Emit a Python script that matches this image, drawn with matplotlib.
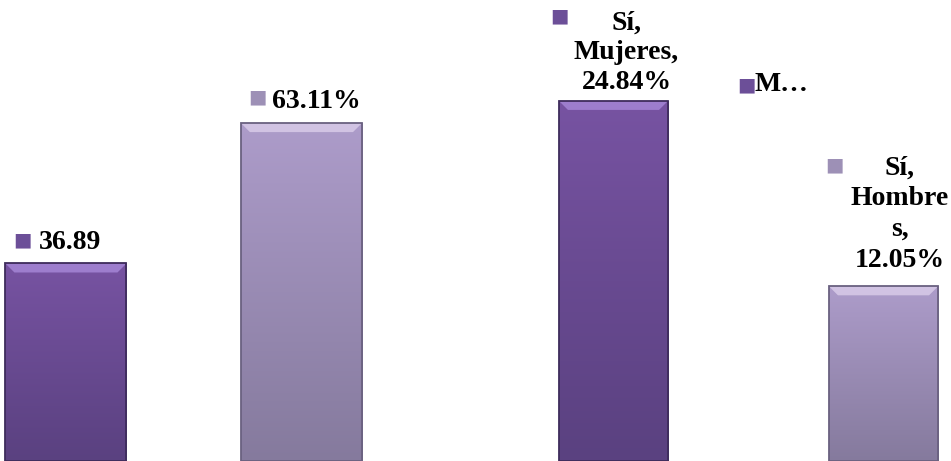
import numpy as np
import matplotlib
matplotlib.use("Agg")
import matplotlib.pyplot as plt
from matplotlib.colors import LinearSegmentedColormap
from matplotlib.patches import Polygon

# ---- data ----
left_categories = ["Sí", "No"]
left_values = [36.89, 63.11]
left_labels = ["36.89", "63.11%"]

right_categories = ["Sí, Mujeres", "Sí, Hombres"]
right_values = [24.84, 12.05]
right_labels = ["Sí,\nMujeres,\n24.84%", "Sí,\nHombre\ns,\n12.05%"]
extra_label = "M…"

dark_cols = ("#7753a2", "#5a4180")
light_cols = ("#ad9cca", "#857a9d")
dark_bevel = "#a585d6"
light_bevel = "#d8cbe8"
dark_mark = "#6c4f98"
light_mark = "#9d90b6"

W, H = 951, 461
fig = plt.figure(figsize=(W / 100, H / 100), dpi=100)
fig.patch.set_facecolor("white")

axL = fig.add_axes([0, 0, 0.5, 1])
axR = fig.add_axes([0.5, 0, 0.5, 1])

SERIF = ["Liberation Serif", "DejaVu Serif"]


def setup(ax, xlim, ylim):
    ax.set_xlim(*xlim)
    ax.set_ylim(*ylim)
    ax.axis("off")


def gradient_bar(ax, bar, cols, edge, bevel):
    x0, y0 = bar.get_x(), bar.get_y()
    w, h = bar.get_width(), bar.get_height()
    cmap = LinearSegmentedColormap.from_list("g", [cols[1], cols[0]])
    grad = np.linspace(0, 1, 256).reshape(-1, 1)
    im = ax.imshow(grad, cmap=cmap, aspect="auto", origin="lower",
                   extent=[x0, x0 + w, y0, y0 + h], zorder=2)
    im.set_clip_path(bar)
    # top bevel (size of ~9 px converted to data units)
    inv = ax.transData.inverted()
    p0 = ax.transData.transform((x0, y0 + h))
    p1 = inv.transform((p0[0] + 9, p0[1] - 9))
    bx, by = p1[0] - x0, (y0 + h) - p1[1]
    poly = Polygon([(x0, y0 + h), (x0 + w, y0 + h),
                    (x0 + w - bx, y0 + h - by), (x0 + bx, y0 + h - by)],
                   closed=True, facecolor=bevel, edgecolor="none",
                   alpha=0.85, zorder=2.5)
    ax.add_patch(poly)
    bar.set_facecolor("none")
    bar.set_edgecolor(edge)
    bar.set_linewidth(1.3)
    bar.set_zorder(3)


barsL = axL.bar(range(len(left_values)), left_values, width=0.514)
setup(axL, (-0.280, 1.739), (0, 86.1))
barsR = axR.bar(range(len(right_values)), right_values, width=0.404)
setup(axR, (-0.511, 1.25), (0, 31.8))

gradient_bar(axL, barsL[0], dark_cols, "#3e2c5c", dark_bevel)
gradient_bar(axL, barsL[1], light_cols, "#6a6180", light_bevel)
gradient_bar(axR, barsR[0], dark_cols, "#3e2c5c", dark_bevel)
gradient_bar(axR, barsR[1], light_cols, "#6a6180", light_bevel)

FS = 20


def marker(ax, i, v, mdx, mdy, mcol):
    ax.annotate("■", xy=(i, v), xytext=(mdx, mdy), textcoords="offset pixels",
                ha="center", va="center", fontsize=14, color=mcol,
                family=["DejaVu Sans"])


def label(ax, i, v, text, dx, dy, mdx, mdy, mcol, ls=1.3):
    ax.annotate(text, xy=(i, v), xytext=(dx, dy), textcoords="offset pixels",
                ha="center", va="center", multialignment="center",
                fontsize=FS, fontweight="bold", family=SERIF, color="black",
                linespacing=ls)
    marker(ax, i, v, mdx, mdy, mcol)


label(axL, 0, left_values[0], left_labels[0], 4, 21, -44, 24, dark_mark)
label(axL, 1, left_values[1], left_labels[1], 15, 22, -44, 26, light_mark)
label(axR, 0, right_values[0], right_labels[0], 13, 48, -54, 85, dark_mark,
      ls=1.25)
label(axR, 1, right_values[1], right_labels[1], 16, 72, -49, 121, light_mark)

# truncated extra label
axR.annotate(extra_label, xy=(0, right_values[0]), xytext=(141, 16),
             textcoords="offset pixels", ha="left", va="center",
             fontsize=FS, fontweight="bold", family=SERIF, color="black")
marker(axR, 0, right_values[0], 133, 16, dark_mark)

fig.savefig("out.png", dpi=100, facecolor="white")
